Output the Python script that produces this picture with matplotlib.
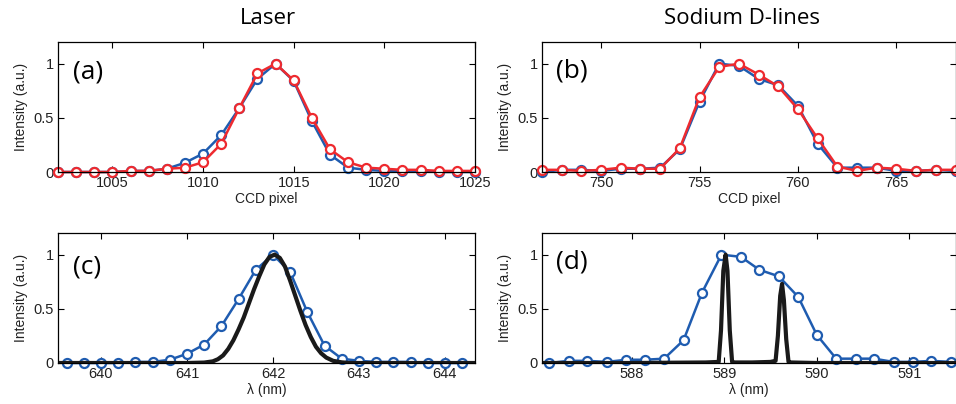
import matplotlib
matplotlib.use("Agg")
import matplotlib.pyplot as plt

# ---------- data ----------
# laser, CCD pixel axis
laser_pixel = list(range(1002, 1026))
laser_blue = [0.0, 0.0, 0.0, 0.0, 0.01, 0.01, 0.03, 0.085, 0.17, 0.34, 0.59, 0.86,
              1.0, 0.84, 0.47, 0.16, 0.04, 0.02, 0.01, 0.01, 0.01, 0.0, 0.0, 0.0]
laser_red = [0.0, 0.0, 0.0, 0.0, 0.01, 0.01, 0.03, 0.04, 0.09, 0.26, 0.59, 0.91,
             1.0, 0.845, 0.50, 0.21, 0.09, 0.04, 0.03, 0.02, 0.02, 0.01, 0.01, 0.01]

# sodium, CCD pixel axis
na_pixel = list(range(747, 769))
na_blue = [0.0, 0.02, 0.02, 0.01, 0.03, 0.03, 0.04, 0.21, 0.65, 1.0, 0.98,
           0.86, 0.80, 0.61, 0.26, 0.04, 0.04, 0.04, 0.01, 0.01, 0.02, 0.01]
na_red = [0.02, 0.02, 0.01, 0.02, 0.04, 0.03, 0.03, 0.22, 0.69, 0.97, 1.0,
          0.90, 0.79, 0.58, 0.31, 0.05, 0.01, 0.04, 0.03, 0.01, 0.02, 0.02]

# calibrated wavelengths of the same pixels
laser_nm = [639.6, 639.8, 640.0, 640.2, 640.4, 640.6, 640.8, 641.0, 641.2, 641.4,
            641.6, 641.8, 642.0, 642.2, 642.4, 642.6, 642.8, 643.0, 643.2, 643.4,
            643.6, 643.8, 644.0, 644.2]
na_nm = [587.11, 587.32, 587.52, 587.73, 587.94, 588.14, 588.35, 588.56, 588.76,
         588.97, 589.18, 589.38, 589.59, 589.80, 590.00, 590.21, 590.42, 590.62,
         590.83, 591.04, 591.24, 591.45]

# reference spectra (black)
ref_laser_nm = [639.5, 640.5, 641.0, 641.2, 641.3, 641.36, 641.42, 641.48, 641.54,
                641.6, 641.66, 641.72, 641.78, 641.84, 641.9, 641.96, 642.02,
                642.08, 642.14, 642.2, 642.26, 642.32, 642.38, 642.44, 642.5,
                642.56, 642.62, 642.7, 642.8, 642.9, 643.5, 644.35]
ref_laser_int = [0.0, 0.0, 0.0, 0.004, 0.015, 0.035, 0.07, 0.13, 0.21,
                 0.31, 0.42, 0.55, 0.68, 0.80, 0.91, 0.98, 1.0,
                 0.97, 0.89, 0.76, 0.62, 0.48, 0.35, 0.24, 0.15,
                 0.09, 0.05, 0.02, 0.006, 0.0, 0.0, 0.0]
ref_na_nm = [587.03, 588.0, 588.8, 588.94, 588.965, 588.99, 589.015, 589.035, 589.06,
             589.085, 589.11, 589.3, 589.5, 589.555, 589.58, 589.605, 589.625, 589.645,
             589.67, 589.695, 589.72, 590.0, 591.5]
ref_na_int = [0.0, 0.0, 0.005, 0.01, 0.3, 0.85, 1.0, 0.85, 0.3,
              0.01, 0.005, 0.005, 0.01, 0.02, 0.25, 0.62, 0.73, 0.58,
              0.22, 0.01, 0.005, 0.0, 0.0]

BLUE = "#1f5cb0"
RED = "#ee2a2f"

plt.rcParams["font.family"] = ["Liberation Sans", "DejaVu Sans"]
plt.rcParams["font.size"] = 10
plt.rcParams["xtick.direction"] = "in"
plt.rcParams["ytick.direction"] = "in"

W, H = 956, 404
fig = plt.figure(figsize=(W / 100, H / 100), dpi=100)


def make_ax(left, top, width, height=130):
    return fig.add_axes([left / W, (H - top - height) / H, width / W, height / H])


def style(ax, xlim, xticks, xlabel, letter, ly):
    ax.set_xlim(*xlim)
    ax.set_ylim(0, 1.2)
    ax.set_xticks(xticks)
    ax.set_yticks([0, 0.5, 1])
    ax.set_yticklabels(["0", "0.5", "1"])
    ax.tick_params(top=True, right=True, length=4, width=0.8, labelsize=10.5,
                   pad=3, labelcolor="#222222")
    for s in ax.spines.values():
        s.set_linewidth(0.9)
    ax.set_xlabel(xlabel, fontsize=10, labelpad=1, color="#222222")
    ax.set_ylabel("Intensity (a.u.)", fontsize=10, labelpad=4, color="#222222")
    ax.text(0.035, ly, letter, transform=ax.transAxes, fontsize=19,
            family="Open Sans", va="center", ha="left")


mk = dict(marker="o", markersize=6.5, markerfacecolor="white",
          markeredgewidth=1.6, linewidth=1.8, clip_on=False)

# (a)
ax = make_ax(58, 42, 417)
ax.plot(laser_pixel, laser_blue, color=BLUE, markeredgecolor=BLUE, **mk)
ax.plot(laser_pixel, laser_red, color=RED, markeredgecolor=RED, **mk)
style(ax, (1002, 1025), [1005, 1010, 1015, 1020, 1025], "CCD pixel", "(a)", 0.77)

# (b)
ax = make_ax(542, 42, 413.5)
ax.plot(na_pixel, na_blue, color=BLUE, markeredgecolor=BLUE, **mk)
ax.plot(na_pixel, na_red, color=RED, markeredgecolor=RED, **mk)
style(ax, (747, 768), [750, 755, 760, 765], "CCD pixel", "(b)", 0.78)

# (c)
ax = make_ax(58, 233, 417)
ax.plot(laser_nm, laser_blue, color=BLUE, markeredgecolor=BLUE, **mk)
ax.plot(ref_laser_nm, ref_laser_int, color="#1a1a1a", linewidth=3)
style(ax, (639.5, 644.35), [640, 641, 642, 643, 644], "λ (nm)", "(c)", 0.74)

# (d)
ax = make_ax(542, 233, 413.5)
ax.plot(na_nm, na_blue, color=BLUE, markeredgecolor=BLUE, **mk)
ax.plot(ref_na_nm, ref_na_int, color="#1a1a1a", linewidth=3)
style(ax, (587.03, 591.5), [588, 589, 590, 591], "λ (nm)", "(d)", 0.78)

fig.text(268 / W, 1 - 19 / H, "Laser", family="Open Sans", fontsize=16,
         ha="center", va="center")
fig.text(742 / W, 1 - 19 / H, "Sodium D-lines", family="Open Sans", fontsize=16,
         ha="center", va="center")

fig.savefig("out.png", dpi=100)
